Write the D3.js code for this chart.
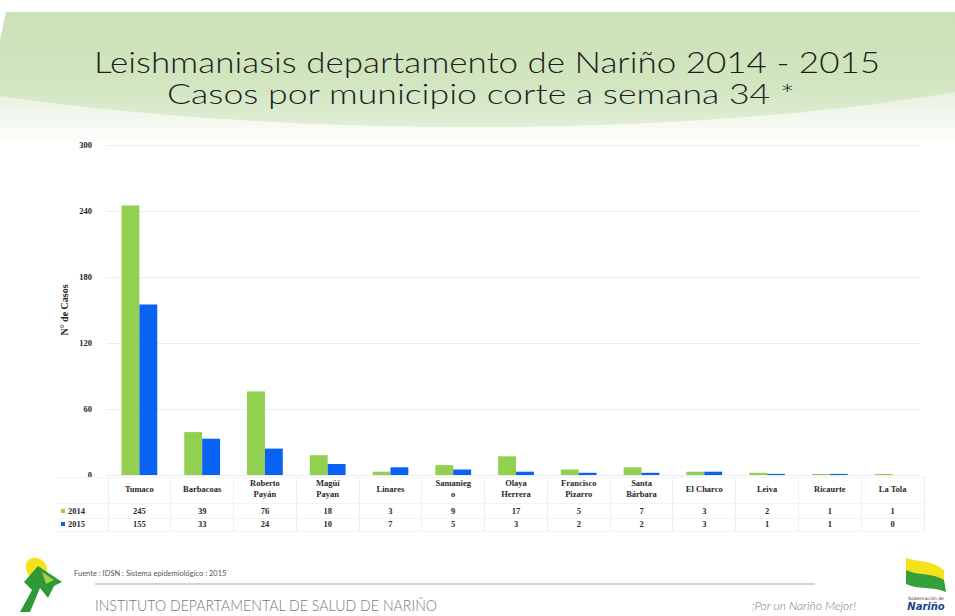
<!DOCTYPE html>
<html>
<head>
<meta charset="utf-8">
<script src="https://cdn.jsdelivr.net/npm/d3@7"></script>
<style>
  body { margin: 0; background: #ffffff; }
  svg { display: block; }
</style>
</head>
<body>
<div id="chart"></div>
<script>
// ========================= DATA ==================================
const municipios = ['Tumaco', 'Barbacoas', 'Roberto Payán', 'Magüí Payán', 'Linares', 'Samaniego',
    'Olaya Herrera', 'Francisco Pizarro', 'Santa Bárbara', 'El Charco', 'Leiva', 'Ricaurte', 'La Tola'];
// how each name is broken in the table header
const municipioLines = [['Tumaco'], ['Barbacoas'], ['Roberto', 'Payán'], ['Magüí', 'Payan'], ['Linares'],
    ['Samanieg', 'o'], ['Olaya', 'Herrera'], ['Francisco', 'Pizarro'], ['Santa', 'Bárbara'], ['El Charco'],
    ['Leiva'], ['Ricaurte'], ['La Tola']];
const years = ['2014', '2015'];
const casos2014 = [245, 39, 76, 18, 3, 9, 17, 5, 7, 3, 2, 1, 1];
const casos2015 = [155, 33, 24, 10, 7, 5, 3, 2, 2, 3, 1, 1, 0];
const yTicks = [0, 60, 120, 180, 240, 300];

const W = 955, H = 616;
const colour = d3.scaleOrdinal().domain(years).range(['#92d050', '#0a62f5']);

const svg = d3.select('#chart').append('svg')
    .attr('width', W)
    .attr('height', H);

// ========================= HEADER ==================================
const defs = svg.append('defs');
const grad = defs.append('linearGradient')
    .attr('id', 'band')
    .attr('x1', 0).attr('y1', 0).attr('x2', 0).attr('y2', 1);
grad.append('stop').attr('offset', '0%').attr('stop-color', '#cbe1b6');
grad.append('stop').attr('offset', '65%').attr('stop-color', '#d2e6c1');
grad.append('stop').attr('offset', '100%').attr('stop-color', '#e2eed6');

const grad2 = defs.append('linearGradient')
    .attr('id', 'fade')
    .attr('x1', 0).attr('y1', 0).attr('x2', 0).attr('y2', 1);
grad2.append('stop').attr('offset', '0%').attr('stop-color', '#e6f0dd');
grad2.append('stop').attr('offset', '100%').attr('stop-color', '#ffffff');

svg.append('path')
    .attr('d', 'M0,88 C250,125 650,135 955,92 L955,145 L0,145 Z')
    .attr('fill', 'url(#fade)');

svg.append('path')
    .attr('d', 'M6,12 L955,12 L955,92 C700,136 300,140 0,96 L0,40 Z')
    .attr('fill', 'url(#band)');

svg.append('text')
    .attr('x', 487).attr('y', 73)
    .attr('text-anchor', 'middle')
    .attr('textLength', 786)
    .attr('lengthAdjust', 'spacingAndGlyphs')
    .attr('font-family', 'Lato, "Open Sans", sans-serif')
    .attr('font-weight', 300)
    .attr('font-size', 30)
    .attr('fill', '#1e1e1e')
    .text('Leishmaniasis departamento de Nariño 2014 - 2015');

svg.append('text')
    .attr('x', 481).attr('y', 104)
    .attr('text-anchor', 'middle')
    .attr('textLength', 628)
    .attr('lengthAdjust', 'spacingAndGlyphs')
    .attr('font-family', 'Lato, "Open Sans", sans-serif')
    .attr('font-weight', 300)
    .attr('font-size', 28)
    .attr('fill', '#1e1e1e')
    .text('Casos por municipio corte a semana 34 *');

// ========================= GRAPH ==================================
const plot = { left: 108, right: 924, top: 145, bottom: 475 };

const x = d3.scaleBand().domain(municipios).range([plot.left, plot.right]);
const bw = x.bandwidth();
const x1 = d3.scaleBand().domain(years).range([bw * 0.215, bw * 0.785]);
const y = d3.scaleLinear().domain([0, 300]).range([plot.bottom, plot.top]);

const rows = municipios.map((m, i) => ({ name: m, values: [casos2014[i], casos2015[i]] }));

// grid
svg.append('g')
    .attr('class', 'grid')
    .selectAll('line')
    .data(yTicks)
    .enter()
    .append('line')
    .attr('x1', plot.left - 2)
    .attr('x2', plot.right - 4)
    .attr('y1', d => y(d))
    .attr('y2', d => y(d))
    .attr('stroke', '#ececec')
    .attr('stroke-width', 1)
    .attr('shape-rendering', 'crispEdges');

// y axis (labels only)
const yAxis = d3.axisLeft(y).tickValues(yTicks).tickSize(0).tickPadding(0);
svg.append('g')
    .attr('class', 'axis y')
    .attr('transform', 'translate(92, 0)')
    .call(yAxis)
    .attr('font-family', '"Liberation Serif", serif')
    .attr('font-weight', 700)
    .attr('font-size', 8.5)
    .call(g => g.selectAll('text').attr('fill', '#222'))
    .select('.domain').remove();

svg.append('text')
    .attr('transform', 'translate(68, 310) rotate(-90)')
    .attr('text-anchor', 'middle')
    .attr('font-family', '"Liberation Serif", serif')
    .attr('font-weight', 700)
    .attr('font-size', 10)
    .attr('fill', '#222')
    .text('N° de Casos');

// bars
const groups = svg.append('g')
    .attr('class', 'bars')
    .selectAll('g')
    .data(rows)
    .enter()
    .append('g')
    .attr('transform', d => `translate(${x(d.name)}, 0)`);

groups.selectAll('rect')
    .data(d => years.map((yr, i) => ({ year: yr, value: d.values[i] })))
    .enter()
    .append('rect')
    .attr('x', d => x1(d.year))
    .attr('width', x1.bandwidth())
    .attr('y', d => y(d.value))
    .attr('height', d => y(0) - y(d.value))
    .attr('fill', d => colour(d.year));

// ========================= DATA TABLE ==================================
const table = { top: 477, catRow: 489, rowY: [511, 524], bottom: 531, left: 55 };

const vlines = municipios.map(m => x(m)).concat([plot.right]);
svg.append('g')
    .attr('class', 'table-lines')
    .selectAll('line')
    .data(vlines)
    .enter()
    .append('line')
    .attr('x1', d => d).attr('x2', d => d)
    .attr('y1', table.top).attr('y2', table.bottom)
    .attr('stroke', '#efefef')
    .attr('shape-rendering', 'crispEdges');

svg.append('g')
    .selectAll('line')
    .data([table.top, 503, 518, table.bottom])
    .enter()
    .append('line')
    .attr('x1', table.left).attr('x2', plot.right)
    .attr('y1', d => d).attr('y2', d => d)
    .attr('stroke', '#f4f4f4')
    .attr('shape-rendering', 'crispEdges');

const tableFont = g => g
    .attr('font-family', '"Liberation Serif", serif')
    .attr('font-weight', 700)
    .attr('font-size', 8.5)
    .attr('fill', '#2a2a2a')
    .attr('text-anchor', 'middle');

// category names
const cat = svg.append('g').call(tableFont)
    .selectAll('text')
    .data(municipios)
    .enter()
    .append('text')
    .attr('x', d => x(d) + bw / 2)
    .attr('y', (d, i) => municipioLines[i].length > 1 ? table.catRow - 3 : table.catRow + 3);

cat.selectAll('tspan')
    .data((d, i) => municipioLines[i])
    .enter()
    .append('tspan')
    .attr('x', function () { return this.parentNode.getAttribute('x'); })
    .attr('dy', (d, i) => i === 0 ? 0 : 11)
    .text(d => d);

// value rows
years.forEach((yr, j) => {
    svg.append('g').call(tableFont)
        .selectAll('text')
        .data(rows)
        .enter()
        .append('text')
        .attr('x', d => x(d.name) + bw / 2)
        .attr('y', table.rowY[j] + 3)
        .text(d => d.values[j]);

    svg.append('rect')
        .attr('x', 61).attr('y', table.rowY[j] - 2)
        .attr('width', 4).attr('height', 4)
        .attr('fill', colour(yr));

    svg.append('text')
        .call(tableFont)
        .attr('text-anchor', 'start')
        .attr('x', 68).attr('y', table.rowY[j] + 3)
        .text(yr);
});

// ========================= FOOTER ==================================
const logoL = svg.append('g').attr('transform', 'translate(16, 556)');
logoL.append('path').attr('d', 'M16,2 C26,0 34,10 30,18 C26,26 16,26 12,18 C8,10 10,4 16,2 Z').attr('fill', '#f2e31b');
logoL.append('path').attr('d', 'M22,10 L46,26 L38,30 L32,42 L24,32 L14,56 L4,56 L16,34 L8,26 Z').attr('fill', '#2e9a35');
logoL.append('path').attr('d', 'M26,16 L38,24 L30,28 Z').attr('fill', '#a8d04a');

svg.append('text')
    .attr('x', 74).attr('y', 576)
    .attr('font-family', 'Lato, sans-serif')
    .attr('font-size', 7.5)
    .attr('fill', '#555')
    .text('Fuente : IDSN : Sistema epidemiológico : 2015');

svg.append('line')
    .attr('x1', 95).attr('x2', 815)
    .attr('y1', 584).attr('y2', 584)
    .attr('stroke', '#b9ccbf')
    .attr('stroke-width', 1.5);

svg.append('text')
    .attr('x', 95).attr('y', 611)
    .attr('textLength', 342)
    .attr('lengthAdjust', 'spacingAndGlyphs')
    .attr('font-family', 'Lato, sans-serif')
    .attr('font-weight', 300)
    .attr('font-size', 16)
    .attr('fill', '#7a7a7a')
    .text('INSTITUTO DEPARTAMENTAL DE SALUD DE NARIÑO');

svg.append('text')
    .attr('x', 856).attr('y', 610)
    .attr('text-anchor', 'end')
    .attr('font-family', 'Lato, sans-serif')
    .attr('font-style', 'italic')
    .attr('font-weight', 300)
    .attr('font-size', 12)
    .attr('fill', '#7a7a7a')
    .text('¡Por un Nariño Mejor!');

const logoR = svg.append('g').attr('transform', 'translate(898, 556)');
logoR.append('path').attr('d', 'M8,2 C20,6 34,4 46,14 L46,24 C34,16 20,20 8,14 Z').attr('fill', '#f4e21a');
logoR.append('path').attr('d', 'M8,14 C20,20 34,16 46,24 L48,36 C34,30 20,34 8,28 Z').attr('fill', '#35a03a');
logoR.append('text')
    .attr('x', 28).attr('y', 44)
    .attr('text-anchor', 'middle')
    .attr('font-family', '"DejaVu Sans", sans-serif')
    .attr('font-size', 4.5)
    .attr('fill', '#333')
    .text('Gobernación de');
logoR.append('text')
    .attr('x', 28).attr('y', 54)
    .attr('text-anchor', 'middle')
    .attr('font-family', '"DejaVu Sans", sans-serif')
    .attr('font-weight', 700)
    .attr('font-style', 'italic')
    .attr('font-size', 10)
    .attr('fill', '#1b3f8f')
    .text('Nariño');
</script>
</body>
</html>
